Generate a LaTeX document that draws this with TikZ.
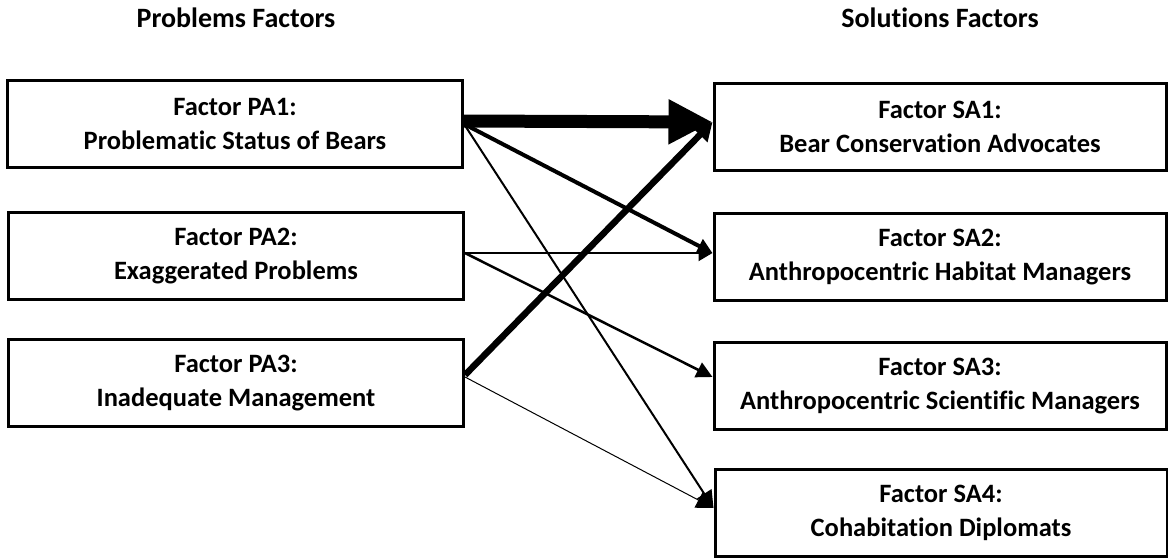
\documentclass[tikz,border=0pt]{standalone}
\usepackage{fontspec}
\setmainfont{Carlito}[Ligatures=NoCommon]
\usetikzlibrary{arrows.meta}
\begin{document}
\begin{tikzpicture}[x=1pt,y=-1pt,
  box/.style={draw=black,line width=3pt,align=center,font=\fontsize{26.5}{34}\selectfont\bfseries,inner sep=0pt},
  lbox/.style={box,minimum width=455pt,minimum height=87pt},
  rbox/.style={box,minimum width=452pt,minimum height=87pt},
  title/.style={font=\fontsize{28}{30}\selectfont\bfseries,inner sep=0pt},
  conn/.style={draw=black,line cap=butt}
]
\useasboundingbox (0,0) rectangle (1168,558);
\node[title] (tp) at (236,18) {Problems Factors};
\node[title] (ts) at (940,18) {Solutions Factors};
\node[lbox] (PA1) at (235,124) {Factor PA1:\\Problematic Status of Bears};
\node[lbox] (PA2) at (236,256) {Factor PA2:\\Exaggerated Problems};
\node[lbox] (PA3) at (236,383) {Factor PA3:\\Inadequate Management};
\node[rbox] (SA1) at (940,127) {Factor SA1:\\Bear Conservation Advocates};
\node[rbox] (SA2) at (940,257) {Factor SA2:\\Anthropocentric Habitat Managers};
\node[rbox] (SA3) at (940,386) {Factor SA3:\\Anthropocentric Scientific Managers};
\node[rbox] (SA4) at (941,513) {Factor SA4:\\Cohabitation Diplomats};
% connectors
\draw[conn,line width=1pt,-{Triangle[length=17pt,width=17pt]}] ([yshift=6pt]PA3.east) -- ([yshift=5pt]SA4.west);
\draw[conn,line width=2pt,-{Triangle[length=17pt,width=17pt]}] (PA1.east) -- ([yshift=5pt]SA4.west);
\draw[conn,line width=2pt,-{Triangle[length=14pt,width=16pt]}] ([yshift=3pt]PA2.east) -- ([yshift=4pt]SA2.west);
\draw[conn,line width=2.5pt,-{Triangle[length=16pt,width=16pt]}] ([yshift=3pt]PA2.east) -- ([yshift=9pt]SA3.west);
\draw[conn,line width=4pt,-{Triangle[length=15pt,width=15pt]}] (PA1.east) -- ([yshift=4pt]SA2.west);
\draw[conn,line width=6.5pt,-{Triangle[length=18pt,width=20pt]}] ([yshift=8pt]PA3.east) -- ([yshift=5pt]SA1.west);
\draw[conn,line width=13pt,-{Triangle[length=44pt,width=42pt]}] ([yshift=3pt]PA1.east) -- ([yshift=5pt]SA1.west);
\end{tikzpicture}
\end{document}
